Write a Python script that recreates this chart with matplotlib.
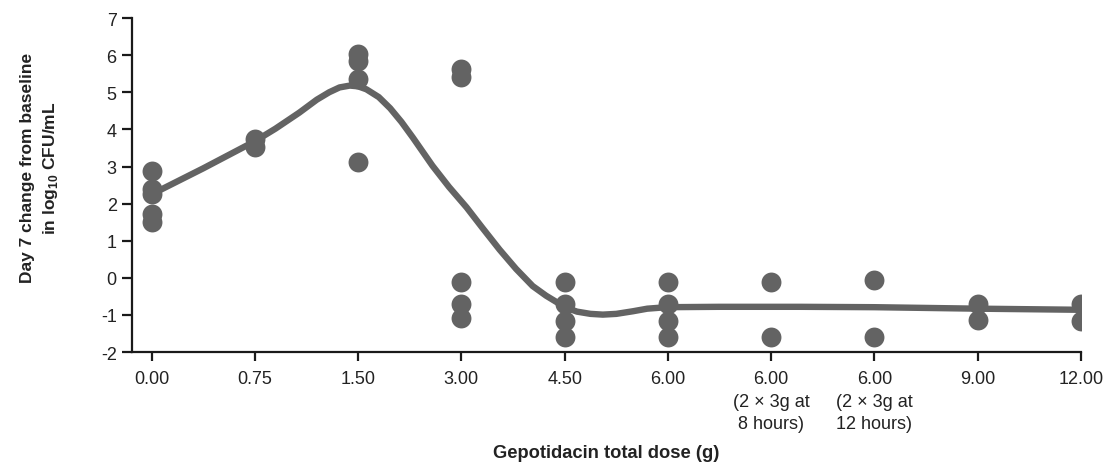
import numpy as np
import matplotlib.pyplot as plt

plt.rcParams['font.family'] = ['Liberation Sans', 'DejaVu Sans']
plt.rcParams['mathtext.fontset'] = 'custom'
plt.rcParams['mathtext.rm'] = 'Liberation Sans'
plt.rcParams['mathtext.bf'] = 'Liberation Sans:bold'
plt.rcParams['axes.unicode_minus'] = False

# --- data ---
dose_labels = ['0.00', '0.75', '1.50', '3.00', '4.50', '6.00',
               '6.00\n(2 × 3g at\n8 hours)', '6.00\n(2 × 3g at\n12 hours)',
               '9.00', '12.00']

obs_values = [
    [2.88, 2.40, 2.26, 1.72, 1.50],
    [3.75, 3.53],
    [6.03, 5.83, 5.35, 3.13],
    [5.62, 5.40, -0.10, -0.70, -1.08],
    [-0.10, -0.70, -1.17, -1.58],
    [-0.10, -0.70, -1.17, -1.58],
    [-0.10, -1.58],
    [-0.05, -1.58],
    [-0.70, -1.13],
    [-0.70, -1.15],
]

# fitted curve (x in category positions)
curve_x = [0.0, 0.5, 1.0, 1.2, 1.43, 1.6, 1.72, 1.82, 1.92, 2.0, 2.08, 2.2,
           2.31, 2.42, 2.53, 2.63, 2.72, 2.88, 3.05, 3.2, 3.37, 3.53, 3.69,
           3.82, 3.95, 4.05, 4.12, 4.25, 4.37, 4.5, 4.66, 4.8, 4.99, 5.5,
           6.28, 7.0, 8.0, 9.0]
curve_y = [2.25, 2.95, 3.68, 4.02, 4.45, 4.80, 5.00, 5.13, 5.18, 5.16, 5.08, 4.87,
           4.57, 4.20, 3.78, 3.38, 3.02, 2.45, 1.90, 1.36, 0.76, 0.24, -0.22,
           -0.48, -0.70, -0.84, -0.91, -0.97, -0.99, -0.97, -0.90, -0.83, -0.79, -0.78,
           -0.78, -0.79, -0.83, -0.86]

grey = '#636363'
dark = '#1a1a1a'

fig = plt.figure(figsize=(11.06, 4.64), dpi=100)
ax = fig.add_axes([0.1193, 0.239, 0.8581, 0.720])

xs, ys = [], []
for i, vals in enumerate(obs_values):
    xs += [i] * len(vals)
    ys += vals
ax.scatter(xs, ys, s=205, color=grey, zorder=3, linewidths=0)
ax.plot(curve_x, curve_y, color=grey, linewidth=4.6, solid_capstyle='butt',
        solid_joinstyle='round', zorder=2)

ax.set_xlim(-0.19, 9.0)
ax.set_ylim(-2, 7)
ax.set_yticks(range(-2, 8))
ax.set_xticks(range(len(dose_labels)))
ax.set_xticklabels(dose_labels, linespacing=1.42, fontsize=13, color='#222222')
for lab in ax.get_yticklabels():
    lab.set_fontsize(13)
    lab.set_color('#222222')

ax.spines['top'].set_visible(False)
ax.spines['right'].set_visible(False)
for s in ['left', 'bottom']:
    ax.spines[s].set_linewidth(1.6)
    ax.spines[s].set_color(dark)
ax.tick_params(axis='x', direction='out', length=6.5, width=1.6, pad=6.5, color=dark)
ax.tick_params(axis='y', direction='out', length=7, width=1.6, pad=4, color=dark)

fig.text(0.036, 0.638, 'Day 7 change from baseline\nin log$_{\\mathbf{10}}$ CFU/mL',
         rotation=90, ha='center', va='center', multialignment='center',
         fontsize=12.5, fontweight='bold', linespacing=1.4, color='#222222')
fig.text(0.5485, 0.013, 'Gepotidacin total dose (g)', ha='center', va='baseline',
         fontsize=13.2, fontweight='bold', color='#222222')

fig.savefig('out.png', dpi=100)
